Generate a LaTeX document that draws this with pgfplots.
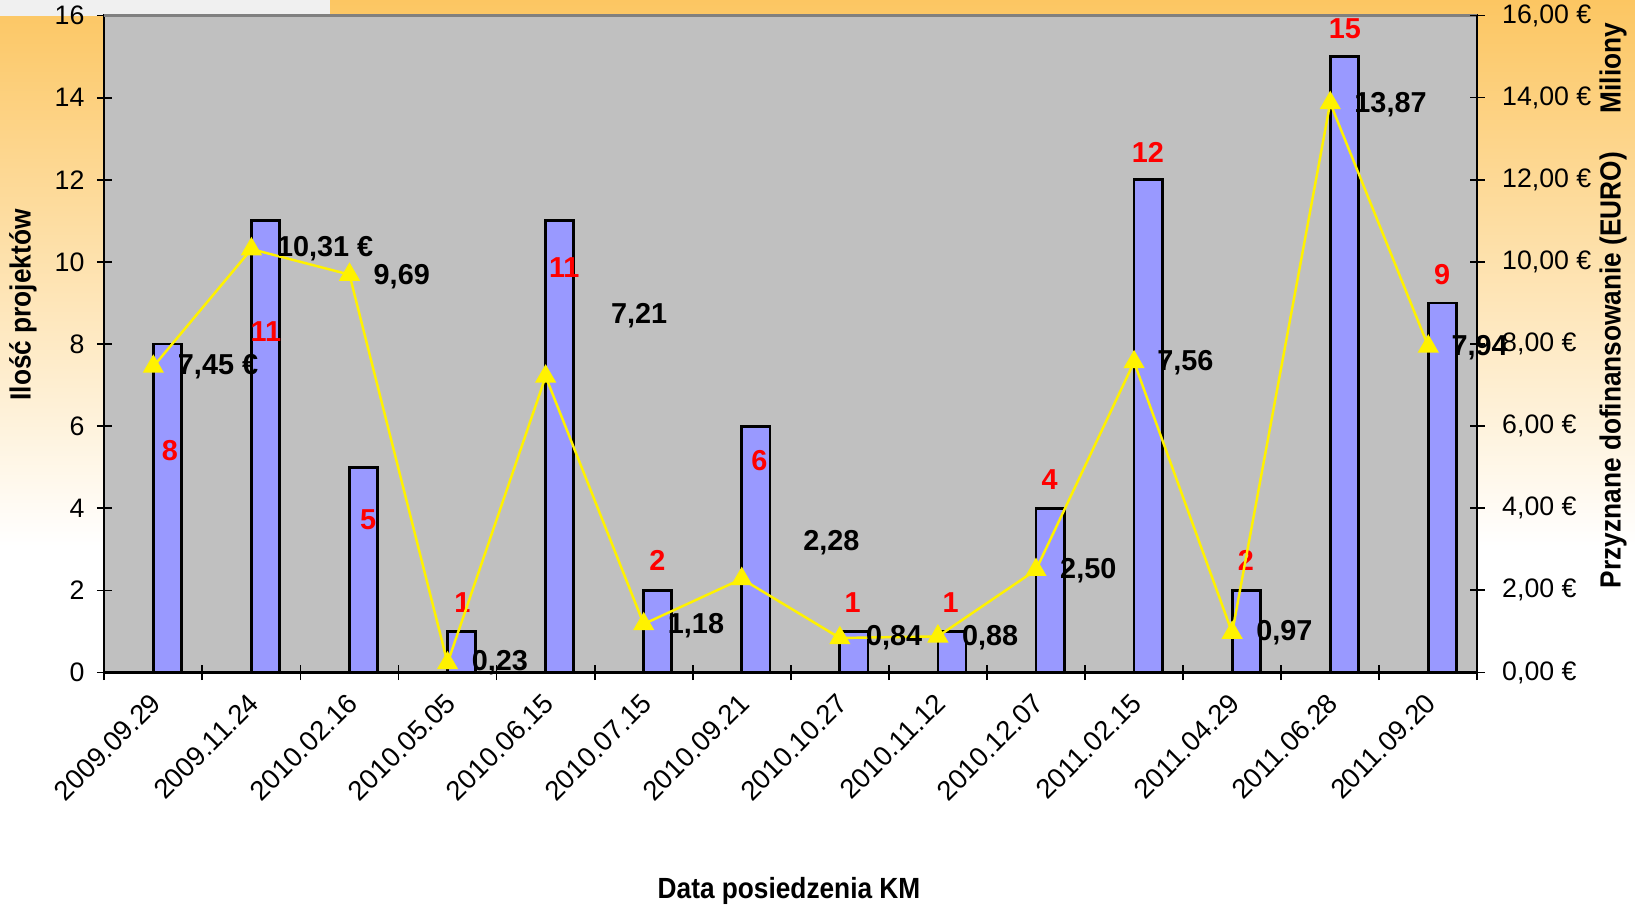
\documentclass[border=0pt]{standalone}
\usepackage{pgfplots}
\pgfplotsset{compat=1.18}
\usepackage{fontspec}
\setmainfont{Liberation Sans}
\definecolor{bgtop}{RGB}{252,198,98}
\definecolor{bgmid}{RGB}{255,234,165}
\definecolor{plotgray}{RGB}{192,192,192}
\definecolor{barblue}{RGB}{153,153,255}
\newcommand{\tickfont}{\fontsize{7.6}{9}\selectfont}
\newcommand{\xtickfont}{\fontsize{7.8}{9.5}\selectfont}
\newcommand{\lblfont}{\bfseries\fontsize{8.2}{10}\selectfont}
\newcommand{\titlefont}{\bfseries\fontsize{8.3}{10}\selectfont}

\pgfplotstableread{
x n
0 8
1 11
2 5
3 1
4 11
5 2
6 6
7 1
8 1
9 4
10 12
11 2
12 15
13 9
}\bars

\pgfplotstableread{
x v
0 7.45
1 10.31
2 9.69
3 0.23
4 7.21
5 1.18
6 2.28
7 0.84
8 0.88
9 2.50
10 7.56
11 0.97
12 13.87
13 7.94
}\money

\begin{document}
\begin{tikzpicture}[x=1cm,y=1cm]
\path[use as bounding box] (0,0) rectangle (16.35,9.06);
\fill[white] (0,0) rectangle (16.35,9.06);
\shade[top color=bgtop, middle color=bgmid, bottom color=white] (0,3.6) rectangle (16.35,9.06);
\fill[white!94!black] (0,8.9) rectangle (3.3,9.06);

\begin{axis}[at={(1.043cm,2.335cm)}, anchor=south west, scale only axis,
  width=13.73cm, height=6.57cm,
  xmin=-0.5, xmax=13.5, ymin=0, ymax=16,
  axis background/.style={fill=plotgray},
  axis line style={black, line width=0.6pt},
  clip=false,
  ytick pos=left, xtick pos=bottom,
  tick align=center,
  major tick length=0.15cm, minor tick length=0.15cm,
  tick style={black, line width=0.5pt},
  major x tick style={draw=none},
  xtick={0,...,13},
  minor xtick={-0.5,0.5,...,13.5},
  xticklabels={2009.09.29,2009.11.24,2010.02.16,2010.05.05,2010.06.15,2010.07.15,2010.09.21,2010.10.27,2010.11.12,2010.12.07,2011.02.15,2011.04.29,2011.06.28,2011.09.20},
  xticklabel style={font=\xtickfont, rotate=45, anchor=east, inner sep=0pt, yshift=-0.15cm, xshift=-0.105cm},
  ytick={0,2,...,16},
  yticklabels={0,2,4,6,8,10,12,14,16},
  yticklabel style={font=\tickfont},
]
\addplot[ybar, bar width=0.287, bar shift=0.1435, fill=barblue, draw=black, line width=0.8pt] table[x=x, y=n] {\bars};
\draw[gray, line width=0.8pt] (axis cs:-0.5,16) -- (axis cs:13.5,16);
\begin{scope}[every node/.style={text=red, font=\lblfont}]
\node at (axis cs:0.17,5.41) {8};
\node at (axis cs:1.148,8.3) {11};
\node at (axis cs:2.19,3.73) {5};
\node at (axis cs:3.15,1.70) {1};
\node at (axis cs:4.19,9.85) {11};
\node at (axis cs:5.14,2.72) {2};
\node at (axis cs:6.18,5.16) {6};
\node at (axis cs:7.13,1.70) {1};
\node at (axis cs:8.13,1.70) {1};
\node at (axis cs:9.14,4.70) {4};
\node at (axis cs:10.14,12.67) {12};
\node at (axis cs:11.14,2.72) {2};
\node at (axis cs:12.15,15.67) {15};
\node at (axis cs:13.14,9.70) {9};
\end{scope}
\end{axis}

\begin{axis}[at={(1.043cm,2.335cm)}, anchor=south west, scale only axis,
  width=13.73cm, height=6.57cm,
  xmin=-0.5, xmax=13.5, ymin=0, ymax=16,
  axis x line=none, axis y line*=right,
  axis line style={black, line width=0.6pt},
  clip=false,
  tick align=center,
  major tick length=0.15cm,
  tick style={black, line width=0.5pt},
  ytick={0,2,...,16},
  yticklabels={{0,00 €},{2,00 €},{4,00 €},{6,00 €},{8,00 €},{10,00 €},{12,00 €},{14,00 €},{16,00 €}},
  yticklabel style={font=\tickfont, anchor=west, xshift=0.05cm},
]
\addplot[yellow, line width=0.7pt, mark=triangle*, mark size=2.8pt, mark options={fill=yellow, draw=yellow}] table[x=x, y=v] {\money};
\begin{scope}[every node/.style={text=black, font=\lblfont, anchor=west, inner sep=0pt}]
\node at (axis cs:0.244,7.44) {7,45 €};
\node at (axis cs:1.254,10.31) {10,31 €};
\node at (axis cs:2.24,9.65) {9,69};
\node at (axis cs:3.24,0.25) {0,23};
\node at (axis cs:4.66,8.69) {7,21};
\node at (axis cs:5.24,1.14) {1,18};
\node at (axis cs:6.62,3.15) {2,28};
\node at (axis cs:7.26,0.84) {0,84};
\node at (axis cs:8.24,0.84) {0,88};
\node at (axis cs:9.24,2.49) {2,50};
\node at (axis cs:10.23,7.54) {7,56};
\node at (axis cs:11.24,0.97) {0,97};
\node at (axis cs:12.24,13.84) {13,87};
\node at (axis cs:13.23,7.92) {7,94};
\end{scope}
\end{axis}

\node[rotate=90, font=\titlefont] at (0.23,6.01) {\scalebox{0.9}[1]{Ilość projektów}};
\node[rotate=90, font=\titlefont] at (16.13,5.36) {\scalebox{0.9}[1]{Przyznane dofinansowanie (EURO)}};
\node[rotate=90, font=\titlefont] at (16.13,8.38) {\scalebox{0.9}[1]{Miliony}};
\node[font=\titlefont] at (7.89,0.15) {\scalebox{0.9}[1]{Data posiedzenia KM}};
\end{tikzpicture}
\end{document}
